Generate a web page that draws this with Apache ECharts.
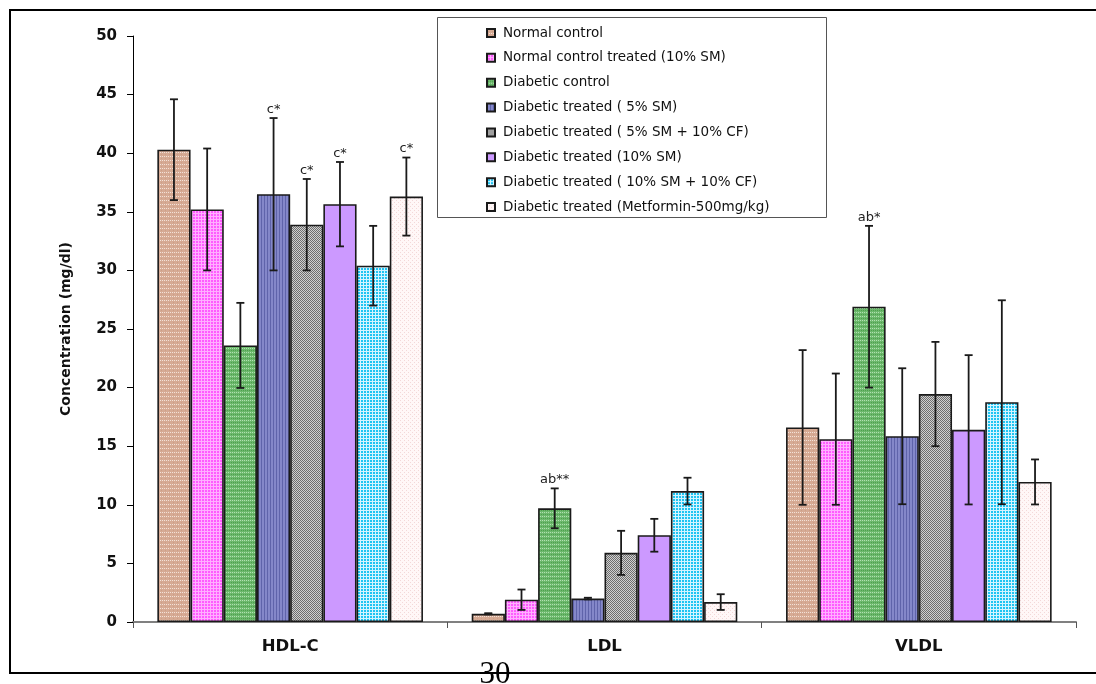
<!DOCTYPE html>
<html>
<head>
<meta charset="utf-8">
<script src="https://cdn.jsdelivr.net/npm/echarts@6/dist/echarts.min.js"></script>
<style>
  html, body { margin: 0; padding: 0; background: #fff; }
  #chart { width: 1096px; height: 684px; }
</style>
</head>
<body>
<div id="chart"></div>
<script>
// ---- Data ----
const categories = ['HDL-C', 'LDL', 'VLDL'];
const yTicks = { min: 0, max: 50, interval: 5 };

const seriesNames = [
  'Normal control',
  'Normal control treated (10% SM)',
  'Diabetic control',
  'Diabetic treated ( 5% SM)',
  'Diabetic treated ( 5% SM + 10% CF)',
  'Diabetic treated (10% SM)',
  'Diabetic treated ( 10% SM + 10% CF)',
  'Diabetic treated (Metformin-500mg/kg)'
];

const normalControl      = [40.3, 0.7, 16.6];
const normalTreated      = [35.2, 1.9, 15.6];
const diabeticControl    = [23.6, 9.7, 26.9];
const diabetic5SM        = [36.5, 2.0, 15.85];
const diabetic5SMCF      = [33.9, 5.9, 19.45];
const diabetic10SM       = [35.65, 7.4, 16.4];
const diabetic10SMCF     = [30.4, 11.17, 18.75];
const metformin          = [36.3, 1.7, 11.95];

const normalControlErr   = [4.3, 0.05, 6.6];
const normalTreatedErr   = [5.2, 0.87, 5.6];
const diabeticControlErr = [3.63, 1.7, 6.9];
const diabetic5SMErr     = [6.5, 0.07, 5.8];
const diabetic5SMCFErr   = [3.9, 1.88, 4.45];
const diabetic10SMErr    = [3.6, 1.4, 6.37];
const diabetic10SMCFErr  = [3.4, 1.14, 8.7];
const metforminErr       = [3.33, 0.67, 1.92];

const normalControlSig   = ['', '', ''];
const normalTreatedSig   = ['', '', ''];
const diabeticControlSig = ['', 'ab**', 'ab*'];
const diabetic5SMSig     = ['c*', '', ''];
const diabetic5SMCFSig   = ['c*', '', ''];
const diabetic10SMSig    = ['c*', '', ''];
const diabetic10SMCFSig  = ['', '', ''];
const metforminSig       = ['c*', '', ''];

const allValues = [normalControl, normalTreated, diabeticControl, diabetic5SM,
                   diabetic5SMCF, diabetic10SM, diabetic10SMCF, metformin];
const allErrs = [normalControlErr, normalTreatedErr, diabeticControlErr, diabetic5SMErr,
                 diabetic5SMCFErr, diabetic10SMErr, diabetic10SMCFErr, metforminErr];
const allSigs = [normalControlSig, normalTreatedSig, diabeticControlSig, diabetic5SMSig,
                 diabetic5SMCFSig, diabetic10SMSig, diabetic10SMCFSig, metforminSig];

// ---- Fill patterns (style only) ----
function tile(w, h, base, dots) {
  const c = document.createElement('canvas');
  c.width = w; c.height = h;
  const g = c.getContext('2d');
  g.fillStyle = base; g.fillRect(0, 0, w, h);
  dots.forEach(function (d) { g.fillStyle = d[2]; g.fillRect(d[0], d[1], d[3] || 1, d[4] || 1); });
  return { image: c, repeat: 'repeat' };
}
const patterns = [
  tile(4, 4, '#D6AA94', [[0, 0, '#F3E2D8'], [2, 0, '#F3E2D8'], [1, 2, '#CC9E87']]),
  tile(3, 3, '#FF5CFF', [[0, 0, '#FFB0FF', 1, 3], [0, 0, '#FFB0FF', 3, 1]]),
  tile(4, 4, '#6CB96C', [[0, 0, '#B2E0B2'], [2, 0, '#B2E0B2'], [1, 2, '#4E9E4E'], [3, 2, '#4E9E4E']]),
  tile(3, 1, '#8487C9', [[0, 0, '#5F63AA']]),
  tile(2, 2, '#D0D0D0', [[0, 0, '#6E6E6E'], [1, 1, '#6E6E6E']]),
  '#CC99FF',
  tile(3, 3, '#1FC4F2', [[0, 0, '#D4F4FF', 1, 3], [0, 0, '#D4F4FF', 3, 1]]),
  tile(4, 4, '#FFF7F7', [[0, 0, '#F3D8D8'], [2, 2, '#F3D8D8']])
];

const CAT_GAP = 0.155;
const N = seriesNames.length;

const barSeries = seriesNames.map(function (name, i) {
  return {
    name: name,
    type: 'bar',
    data: allValues[i],
    barGap: '0%',
    barCategoryGap: (CAT_GAP * 100) + '%',
    itemStyle: { color: patterns[i], borderColor: '#1a1a1a', borderWidth: 1.6 },
    emphasis: { disabled: true },
    z: 2
  };
});

const errData = [];
allValues.forEach(function (vals, s) {
  vals.forEach(function (v, c) {
    errData.push([c, v, allErrs[s][c], s, allSigs[s][c]]);
  });
});

const errorSeries = {
  type: 'custom',
  name: 'errors',
  data: errData,
  z: 5,
  silent: true,
  encode: { x: 0, y: 1 },
  renderItem: function (params, api) {
    const c = api.value(0), v = api.value(1), e = api.value(2), s = api.value(3);
    const sig = errData[params.dataIndex][4];
    const band = api.size([1, 0])[0];
    const bw = band * (1 - CAT_GAP) / N;
    const base = api.coord([c, v]);
    const x = base[0] + (s - (N - 1) / 2) * bw;
    const yTop = api.coord([c, v + e])[1];
    const yBot = api.coord([c, v - e])[1];
    const cap = 4;
    const st = { stroke: '#1a1a1a', lineWidth: 1.8 };
    const children = [
      { type: 'line', shape: { x1: x, y1: yTop, x2: x, y2: yBot }, style: st },
      { type: 'line', shape: { x1: x - cap, y1: yTop, x2: x + cap, y2: yTop }, style: st },
      { type: 'line', shape: { x1: x - cap, y1: yBot, x2: x + cap, y2: yBot }, style: st }
    ];
    if (sig) {
      children.push({
        type: 'text',
        style: { text: sig, x: x, y: yTop - 2, align: 'center', verticalAlign: 'bottom',
                 fill: '#222', font: '13px "DejaVu Sans"' }
      });
    }
    return { type: 'group', children: children };
  }
};

const chart = echarts.init(document.getElementById('chart'));
chart.setOption({
  animation: false,
  backgroundColor: '#ffffff',
  grid: { left: 133, right: 20, top: 36, bottom: 62 },
  legend: {
    data: seriesNames,
    orient: 'vertical',
    left: 486,
    top: 26,
    padding: 0,
    itemWidth: 8,
    itemHeight: 8,
    itemGap: 10.86,
    icon: 'rect',
    selectedMode: false,
    textStyle: { fontFamily: 'DejaVu Sans', fontSize: 13.5, color: '#111', lineHeight: 14, padding: [0, 0, 0, 3] },
    z: 10
  },
  xAxis: {
    type: 'category',
    data: categories,
    axisLine: { lineStyle: { color: '#808080', width: 2 } },
    axisTick: { show: true, alignWithLabel: false, length: 6, lineStyle: { color: '#555', width: 1 } },
    axisLabel: { fontFamily: 'DejaVu Sans', fontWeight: 'bold', fontSize: 16.5, color: '#111', margin: 16 }
  },
  yAxis: {
    type: 'value',
    min: yTicks.min, max: yTicks.max, interval: yTicks.interval,
    name: 'Concentration (mg/dl)',
    nameLocation: 'middle',
    nameGap: 60,
    nameRotate: 90,
    nameTextStyle: { fontFamily: 'DejaVu Sans', fontWeight: 'bold', fontSize: 14, color: '#111' },
    axisLine: { show: true, lineStyle: { color: '#000', width: 1 } },
    axisTick: { show: true, length: 6, lineStyle: { color: '#000', width: 1 } },
    splitLine: { show: false },
    axisLabel: { fontFamily: 'DejaVu Sans', fontWeight: 'bold', fontSize: 15, color: '#111', margin: 16 }
  },
  graphic: [
    { type: 'polyline', z: 0, silent: true,
      shape: { points: [[1100, 10], [10, 10], [10, 673], [1100, 673]] },
      style: { stroke: '#000', lineWidth: 2, fill: null } },
    { type: 'rect', z: 1, silent: true,
      shape: { x: 437.5, y: 17.5, width: 389, height: 200 },
      style: { stroke: '#555', lineWidth: 1, fill: '#fff' } },
    { type: 'text', z: 1, silent: true,
      style: { text: '30', x: 495, y: 690, align: 'center', verticalAlign: 'bottom',
               fill: '#000', font: '31px "Liberation Serif"' } }
  ],
  series: barSeries.concat([errorSeries])
});
</script>
</body>
</html>
